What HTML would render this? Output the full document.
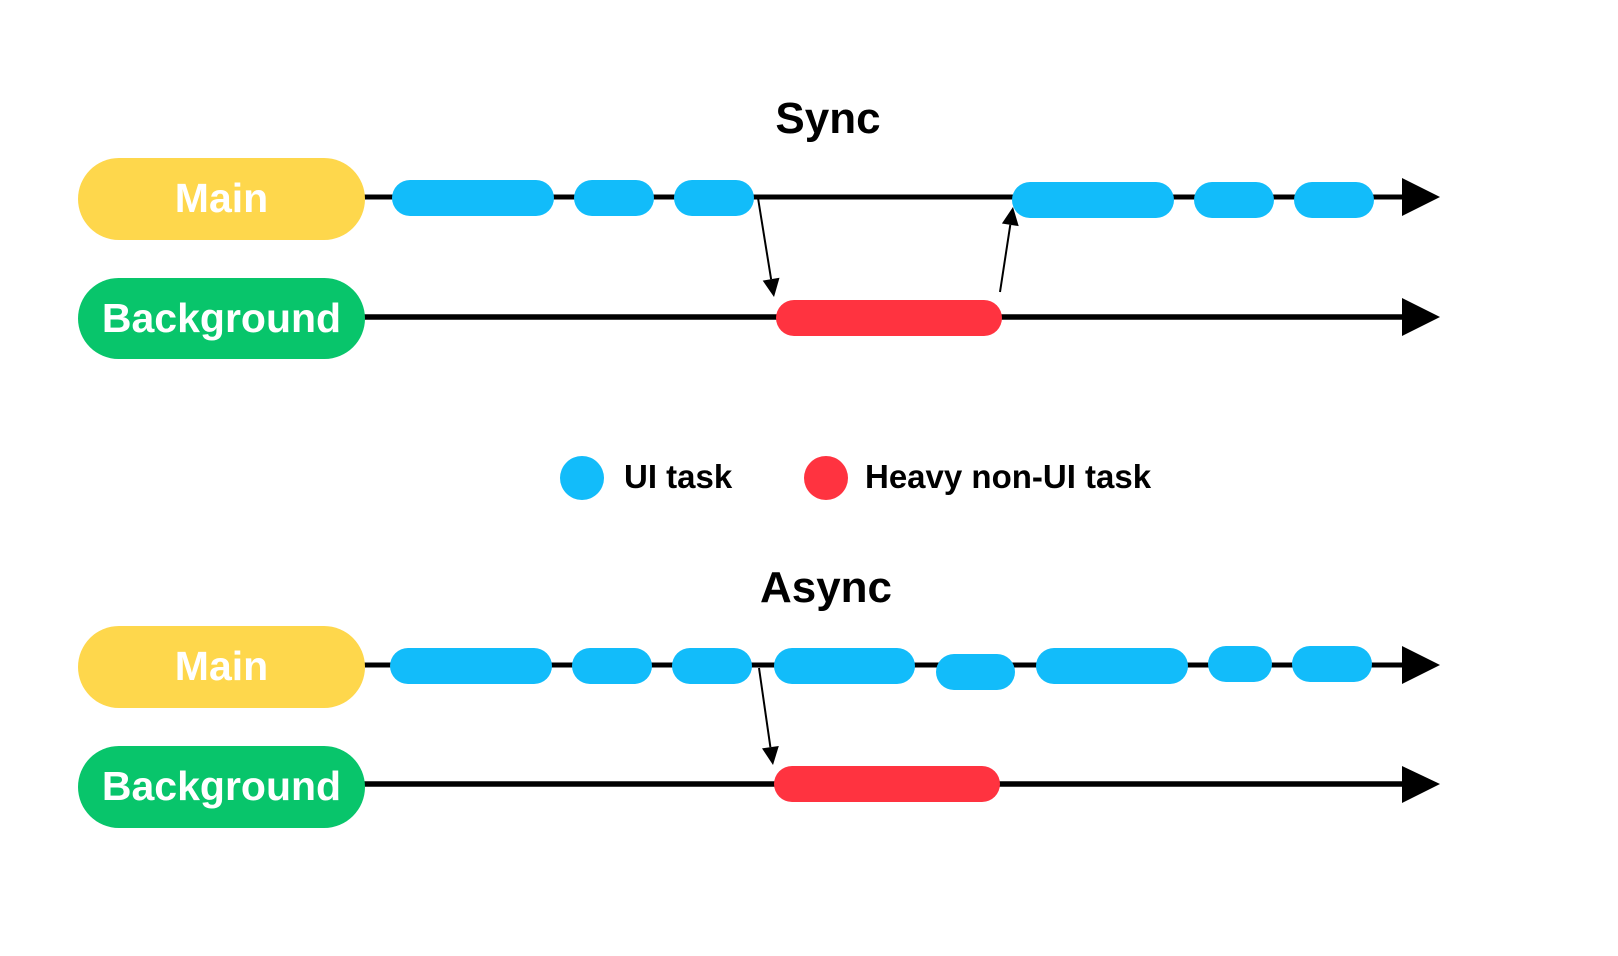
<!DOCTYPE html>
<html>
<head>
<meta charset="utf-8">
<style>
  html, body { margin: 0; padding: 0; background: #ffffff; }
  body { width: 1618px; height: 956px; overflow: hidden; }
  svg { display: block; }
  text { font-family: "Liberation Sans", Arial, sans-serif; font-weight: bold; }
</style>
</head>
<body>
<svg width="1618" height="956" viewBox="0 0 1618 956" xmlns="http://www.w3.org/2000/svg">
  <rect width="1618" height="956" fill="#ffffff"/>

  <!-- ===== SYNC ===== -->
  <text x="828" y="133" font-size="44" text-anchor="middle" fill="#000">Sync</text>

  <!-- timelines -->
  <line x1="360" y1="197" x2="1405" y2="197" stroke="#000" stroke-width="5"/>
  <polygon points="1402,178 1440,197 1402,216" fill="#000"/>
  <line x1="360" y1="317" x2="1405" y2="317" stroke="#000" stroke-width="5.5"/>
  <polygon points="1402,298 1440,317 1402,336" fill="#000"/>

  <!-- labels -->
  <rect x="78" y="158" width="287" height="82" rx="41" ry="41" fill="#FED74C"/>
  <text x="221.5" y="212" font-size="41" text-anchor="middle" fill="#fff">Main</text>
  <rect x="78" y="278" width="287" height="81" rx="40.5" ry="40.5" fill="#08C56B"/>
  <text x="221.5" y="332" font-size="41" text-anchor="middle" fill="#fff">Background</text>

  <!-- main UI tasks -->
  <rect x="392" y="180" width="162" height="36" rx="18" fill="#12BCFA"/>
  <rect x="574" y="180" width="80" height="36" rx="18" fill="#12BCFA"/>
  <rect x="674" y="180" width="80" height="36" rx="18" fill="#12BCFA"/>
  <rect x="1012" y="182" width="162" height="36" rx="18" fill="#12BCFA"/>
  <rect x="1194" y="182" width="80" height="36" rx="18" fill="#12BCFA"/>
  <rect x="1294" y="182" width="80" height="36" rx="18" fill="#12BCFA"/>

  <!-- heavy task -->
  <rect x="776" y="300" width="226" height="36" rx="18" fill="#FF3340"/>

  <!-- thin arrows -->
  <line x1="758" y1="198" x2="771.1" y2="279.2" stroke="#000" stroke-width="2"/>
  <polygon points="774,297 779.5,277.8 762.7,280.6" fill="#000"/>
  <line x1="1000" y1="292" x2="1010.3" y2="224.8" stroke="#000" stroke-width="2"/>
  <polygon points="1013,207 1018.7,226.1 1001.9,223.5" fill="#000"/>

  <!-- ===== LEGEND ===== -->
  <circle cx="582" cy="478" r="22" fill="#12BCFA"/>
  <text x="624" y="488" font-size="33" fill="#000">UI task</text>
  <circle cx="826" cy="478" r="22" fill="#FF3340"/>
  <text x="865" y="488" font-size="33" fill="#000">Heavy non-UI task</text>

  <!-- ===== ASYNC ===== -->
  <text x="826" y="602" font-size="44" text-anchor="middle" fill="#000">Async</text>

  <line x1="360" y1="665" x2="1405" y2="665" stroke="#000" stroke-width="5"/>
  <polygon points="1402,646 1440,665 1402,684" fill="#000"/>
  <line x1="360" y1="784" x2="1405" y2="784" stroke="#000" stroke-width="5.5"/>
  <polygon points="1402,766 1440,784 1402,803" fill="#000"/>

  <rect x="78" y="626" width="287" height="82" rx="41" ry="41" fill="#FED74C"/>
  <text x="221.5" y="680" font-size="41" text-anchor="middle" fill="#fff">Main</text>
  <rect x="78" y="746" width="287" height="82" rx="41" ry="41" fill="#08C56B"/>
  <text x="221.5" y="800" font-size="41" text-anchor="middle" fill="#fff">Background</text>

  <rect x="390" y="648" width="162" height="36" rx="18" fill="#12BCFA"/>
  <rect x="572" y="648" width="80" height="36" rx="18" fill="#12BCFA"/>
  <rect x="672" y="648" width="80" height="36" rx="18" fill="#12BCFA"/>
  <rect x="774" y="648" width="141" height="36" rx="18" fill="#12BCFA"/>
  <rect x="936" y="654" width="79" height="36" rx="18" fill="#12BCFA"/>
  <rect x="1036" y="648" width="152" height="36" rx="18" fill="#12BCFA"/>
  <rect x="1208" y="646" width="64" height="36" rx="18" fill="#12BCFA"/>
  <rect x="1292" y="646" width="80" height="36" rx="18" fill="#12BCFA"/>

  <rect x="774" y="766" width="226" height="36" rx="18" fill="#FF3340"/>

  <line x1="759" y1="668" x2="770.4" y2="747.2" stroke="#000" stroke-width="2"/>
  <polygon points="773,765 778.8,746 762,748.4" fill="#000"/>
</svg>
</body>
</html>
